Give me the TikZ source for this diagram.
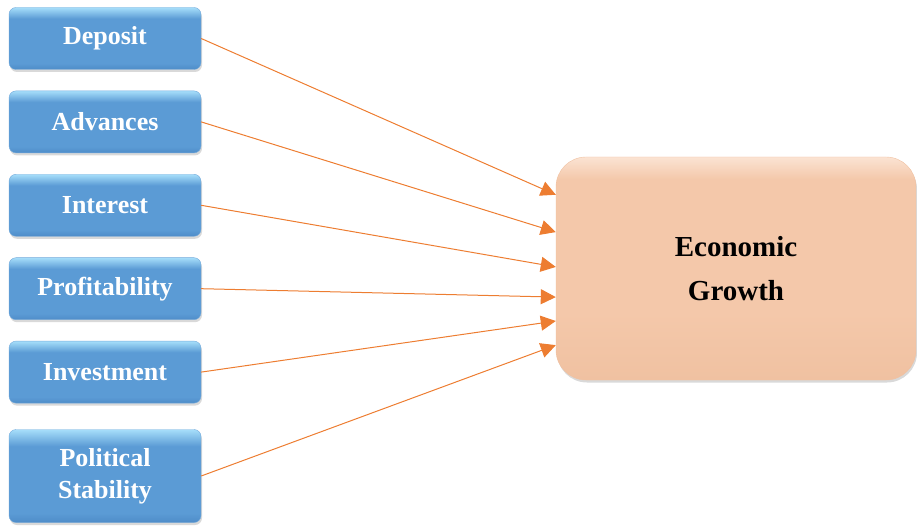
\documentclass[tikz,border=0pt]{standalone}
\usepackage{fontspec}
\setmainfont{Liberation Serif}
\usetikzlibrary{arrows.meta,positioning,calc,shadows}

\definecolor{factortop}{HTML}{A6DEFA}
\definecolor{factormid}{HTML}{5B9BD5}
\definecolor{factorbot}{HTML}{4E8CC8}
\definecolor{goaltop}{HTML}{FBE3D3}
\definecolor{goalmid}{HTML}{F4C8AA}
\definecolor{goalbot}{HTML}{F0C1A1}
\definecolor{linkorange}{HTML}{ED7D31}

\pgfdeclareverticalshading{factorfill}{100bp}{color(0bp)=(factorbot); color(25bp)=(factorbot);
  color(30bp)=(factormid); color(66bp)=(factormid); color(75bp)=(factortop); color(100bp)=(factortop)}
\pgfdeclareverticalshading{goalfill}{100bp}{color(0bp)=(goalbot); color(25bp)=(goalbot);
  color(40bp)=(goalmid); color(70bp)=(goalmid); color(75bp)=(goaltop); color(100bp)=(goaltop)}

\begin{document}
\begin{tikzpicture}[
  x=1pt, y=1pt,
  factor/.style={rounded corners=7pt, align=center, inner sep=0pt,
    minimum width=192pt, minimum height=62pt,
    shading=factorfill, draw=factormid!85!white, line width=0.4pt, text=white,
    font=\fontsize{26}{32}\selectfont\bfseries,
    drop shadow={opacity=0.3, shadow xshift=1pt, shadow yshift=-2.5pt}},
  goal/.style={rounded corners=30pt, align=center, inner sep=0pt,
    minimum width=360pt, minimum height=223pt,
    shading=goalfill, draw=goalbot, text=black,
    font=\fontsize{29}{44}\selectfont\bfseries,
    drop shadow={opacity=0.3, shadow xshift=1pt, shadow yshift=-2.5pt}},
  link/.style={-{Triangle[length=15pt, width=15pt]}, line width=1pt, draw=linkorange},
  node distance=21pt
]
\useasboundingbox (0,0) rectangle (917,-526);

% factors on the left
\node[factor] (deposit) at (105,-38.5) {Deposit};
\node[factor, below=of deposit] (advances) {Advances};
\node[factor, below=of advances] (interest) {Interest};
\node[factor, below=of interest] (profit) {Profitability};
\node[factor, below=of profit] (invest) {Investment};
\node[factor, below=26pt of invest, minimum height=93pt] (polit) {Political\\Stability};

% outcome
\node[goal] (growth) at (736,-268.5) {Economic\\Growth};

\foreach \src/\f in {deposit/0.17, advances/0.337, interest/0.493, profit/0.628, invest/0.735, polit/0.843} {
  \draw[link] (\src.east) -- ($(growth.north west)!\f!(growth.south west)$);
}

\end{tikzpicture}
\end{document}
